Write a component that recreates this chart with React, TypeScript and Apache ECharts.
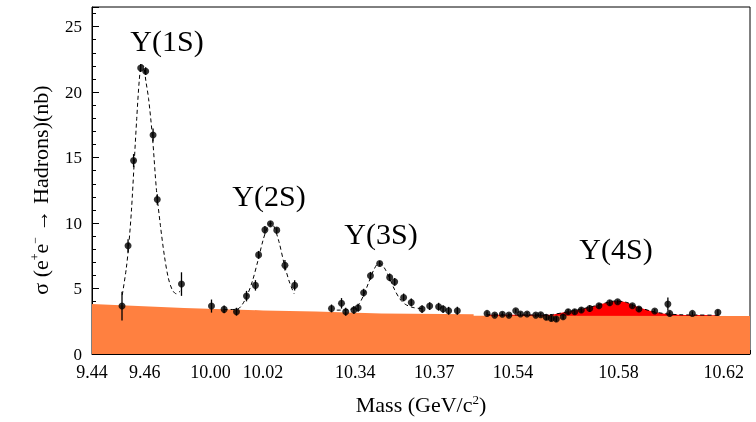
import React, { useEffect, useRef } from 'react';
import * as echarts from 'echarts';

// ---- axis definition (broken mass axis) ----
const tickMasses = [9.44, 9.46, 10.0, 10.02, 10.34, 10.37, 10.54, 10.58, 10.62];
const tickLabels = ['9.44', '9.46', '10.00', '10.02', '10.34', '10.37', '10.54', '10.58', '10.62'];
const segStartMass = [9.44, 9.99, 10.325, 10.525];
const segStartDisplay = [0, 0.035, 0.085, 0.145];
const DISPLAY_MAX = 0.25;
const STEP = 0.005;

// ---- measured points ----
const ups1sMass = [9.4514, 9.4537, 9.4558, 9.4585, 9.4604, 9.4632, 9.4648, 9.474];
const ups1sSigma = [3.66, 8.26, 14.77, 21.84, 21.6, 16.73, 11.8, 5.34];
const ups1sErr = [1.1, 0.5, 0.5, 0.3, 0.3, 0.5, 0.4, 0.9];

const ups2sMass = [10.0004, 10.0052, 10.0099, 10.0137, 10.0171, 10.0183, 10.0207, 10.0228, 10.0252, 10.0283, 10.032];
const ups2sSigma = [3.66, 3.41, 3.23, 4.42, 5.24, 7.57, 9.48, 9.94, 9.46, 6.77, 5.24];
const ups2sErr = [0.5, 0.3, 0.3, 0.4, 0.4, 0.3, 0.3, 0.2, 0.2, 0.4, 0.4];

const ups3sMass = [10.331, 10.3348, 10.3364, 10.3395, 10.3411, 10.3432, 10.3458, 10.3493, 10.3531, 10.355, 10.3584, 10.3613, 10.3654, 10.3683, 10.3717, 10.3734, 10.3755, 10.3788];
const ups3sSigma = [3.48, 3.87, 3.23, 3.36, 3.53, 4.68, 5.97, 6.91, 5.85, 5.51, 4.32, 3.94, 3.43, 3.66, 3.61, 3.43, 3.3, 3.3];
const ups3sErr = [0.3, 0.4, 0.3, 0.3, 0.3, 0.3, 0.3, 0.2, 0.3, 0.3, 0.3, 0.3, 0.3, 0.3, 0.3, 0.3, 0.3, 0.3];

const ups4sMass = [10.5301, 10.533, 10.5359, 10.5384, 10.541, 10.5428, 10.5453, 10.5486, 10.5505, 10.5526, 10.5545, 10.5564, 10.559, 10.5609, 10.5634, 10.5659, 10.5691, 10.5726, 10.5767, 10.5797, 10.5853, 10.5878, 10.5938, 10.5988, 10.5995, 10.6081, 10.6178];
const ups4sSigma = [3.1, 2.97, 3.03, 2.97, 3.3, 3.05, 3.05, 2.97, 3.0, 2.8, 2.72, 2.67, 2.85, 3.23, 3.23, 3.36, 3.48, 3.68, 3.91, 3.99, 3.68, 3.43, 3.28, 3.81, 3.1, 3.1, 3.18];
const ups4sErr = [0.15, 0.15, 0.15, 0.15, 0.15, 0.15, 0.15, 0.15, 0.15, 0.2, 0.2, 0.2, 0.2, 0.2, 0.2, 0.2, 0.25, 0.2, 0.2, 0.15, 0.15, 0.2, 0.15, 0.5, 0.15, 0.15, 0.2];

// ---- fit curves ----
const fit1Mass = [9.4515, 9.453, 9.454, 9.455, 9.456, 9.457, 9.458, 9.4588, 9.4596, 9.4605, 9.4615, 9.463, 9.4645, 9.466, 9.4675, 9.469, 9.4705, 9.472, 9.4735];
const fit1Sigma = [4.5, 6.5, 8.4, 11.0, 14.5, 18.0, 21.0, 22.1, 22.0, 20.8, 19.5, 16.5, 12.5, 9.8, 7.5, 5.8, 4.9, 4.6, 4.8];

const fit2Mass = [10.005, 10.01, 10.012, 10.014, 10.016, 10.018, 10.02, 10.0215, 10.0228, 10.024, 10.026, 10.028, 10.03, 10.0318];
const fit2Sigma = [3.4, 3.4, 3.75, 4.5, 5.6, 7.1, 8.7, 9.6, 10.0, 9.8, 8.6, 6.9, 5.5, 4.6];

const fit3Mass = [10.333, 10.338, 10.341, 10.343, 10.345, 10.347, 10.349, 10.351, 10.353, 10.355, 10.357, 10.359, 10.362, 10.366];
const fit3Sigma = [3.35, 3.4, 3.7, 4.4, 5.4, 6.4, 6.95, 6.6, 5.8, 4.9, 4.2, 3.8, 3.55, 3.45];

const fit4Mass = [10.53, 10.55, 10.555, 10.56, 10.565, 10.57, 10.575, 10.579, 10.583, 10.587, 10.592, 10.597, 10.603, 10.61, 10.618];
const fit4Sigma = [3.0, 2.98, 3.02, 3.2, 3.4, 3.62, 3.9, 4.05, 3.95, 3.62, 3.3, 3.1, 3.0, 2.98, 2.96];

// ---- continuum background ----
const bgMass = [9.44, 9.475, 9.99, 10.02, 10.04, 10.325, 10.35, 10.385, 10.525, 10.63];
const bgSigma = [3.82, 3.52, 3.5, 3.33, 3.25, 3.22, 3.1, 3.03, 2.92, 2.9];

const FONT = "'Liberation Serif', 'DejaVu Serif', serif";

function toD(m: number): number {
  let i = 0;
  for (let k = 0; k < segStartMass.length; k++) if (m >= segStartMass[k] - 1e-9) i = k;
  return +(segStartDisplay[i] + (m - segStartMass[i])).toFixed(6);
}

function pairs(ms: number[], vs: number[]) {
  return ms.map((m, i) => [toD(m), vs[i]]);
}

export default function App() {
  const ref = useRef<HTMLDivElement>(null);
  useEffect(() => {
    if (!ref.current) return;
    const chart = echarts.init(ref.current, undefined, { renderer: 'svg' });

    const nCat = Math.round(DISPLAY_MAX / STEP) + 1;
    const catLabels: string[] = new Array(nCat).fill('');
    const majorIdx = new Set<number>();
    tickMasses.forEach((m, i) => {
      const idx = Math.round(toD(m) / STEP);
      catLabels[idx] = tickLabels[i];
      majorIdx.add(idx);
    });

    const allPts = [
      ...ups1sMass.map((m, i) => [toD(m), ups1sSigma[i], ups1sErr[i]]),
      ...ups2sMass.map((m, i) => [toD(m), ups2sSigma[i], ups2sErr[i]]),
      ...ups3sMass.map((m, i) => [toD(m), ups3sSigma[i], ups3sErr[i]]),
      ...ups4sMass.map((m, i) => [toD(m), ups4sSigma[i], ups4sErr[i]]),
    ];

    const dashed = (ms: number[], vs: number[]) => ({
      type: 'line',
      data: pairs(ms, vs),
      showSymbol: false,
      smooth: 0.3,
      lineStyle: { color: '#000', width: 1, type: [4, 3] },
      z: 3,
      silent: true,
    });

    const labelStyle = (text: string) => ({
      text, font: `30px ${FONT}`, fill: '#000', align: 'center', verticalAlign: 'middle',
    });

    chart.setOption({
      animation: false,
      grid: {
        left: 92, right: 6, top: 7, bottom: 68,
        show: true, borderColor: '#000', borderWidth: 1, backgroundColor: 'transparent',
      },
      xAxis: [
        {
          type: 'value', min: 0, max: DISPLAY_MAX, interval: STEP,
          axisLine: { show: true, lineStyle: { color: '#000', width: 1 } },
          axisTick: { show: true, inside: true, length: 4, lineStyle: { color: '#000' } },
          axisLabel: { show: false },
          splitLine: { show: false },
        },
        {
          type: 'category', data: catLabels, boundaryGap: false, position: 'bottom',
          axisLine: { show: false },
          axisTick: {
            show: true, inside: true, length: 7, lineStyle: { color: '#000' },
            interval: (idx: number) => majorIdx.has(idx),
          },
          axisLabel: {
            show: true, interval: (idx: number) => majorIdx.has(idx),
            color: '#000', fontFamily: FONT, fontSize: 18, margin: 9,
          },
          splitLine: { show: false },
        },
      ],
      yAxis: {
        type: 'value', min: 0, max: 26.5, interval: 5,
        axisLine: { show: true, lineStyle: { color: '#000', width: 1 } },
        axisTick: { show: true, inside: true, length: 7, lineStyle: { color: '#000' } },
        minorTick: { show: true, splitNumber: 5, length: 4, lineStyle: { color: '#000' } },
        axisLabel: {
          color: '#000', fontFamily: FONT, fontSize: 17, margin: 10,
          formatter: (v: number) => (Math.abs(v % 5) < 1e-9 ? String(v) : ''),
        },
        splitLine: { show: false },
      },
      series: [
        {
          type: 'line', data: pairs(fit4Mass, fit4Sigma), showSymbol: false, smooth: 0.3,
          lineStyle: { width: 0 }, areaStyle: { color: '#ff0000', opacity: 1 }, z: 1, silent: true,
        },
        {
          type: 'line', data: pairs(bgMass, bgSigma), showSymbol: false,
          lineStyle: { width: 0 }, areaStyle: { color: '#ff8040', opacity: 1 }, z: 2, silent: true,
        },
        dashed(fit1Mass, fit1Sigma),
        dashed(fit2Mass, fit2Sigma),
        dashed(fit3Mass, fit3Sigma),
        dashed(fit4Mass, fit4Sigma),
        {
          type: 'custom', z: 4, silent: true,
          data: allPts,
          renderItem: (params: any, api: any) => {
            const x = api.value(0), y = api.value(1), e = api.value(2);
            const top = api.coord([x, y + e]);
            const bot = api.coord([x, y - e]);
            return {
              type: 'line',
              shape: { x1: top[0], y1: top[1], x2: bot[0], y2: bot[1] },
              style: { stroke: '#000', lineWidth: 1.3 },
            };
          },
        },
        {
          type: 'scatter', z: 5, silent: true,
          data: allPts.map((p) => [p[0], p[1]]),
          symbol: 'circle', symbolSize: 7, itemStyle: { color: '#000' },
        },
      ],
      graphic: [
        { type: 'text', x: 167, y: 40, style: labelStyle('Υ(1S)') },
        { type: 'text', x: 269, y: 195, style: labelStyle('Υ(2S)') },
        { type: 'text', x: 381, y: 233, style: labelStyle('Υ(3S)') },
        { type: 'text', x: 616, y: 248, style: labelStyle('Υ(4S)') },
        {
          type: 'text', x: 421, y: 404,
          style: {
            text: 'Mass (GeV/c{sup|2})', fontFamily: FONT, fontSize: 22, fill: '#000',
            align: 'center', verticalAlign: 'middle',
            rich: { sup: { fontFamily: FONT, fontSize: 13, verticalAlign: 'top', fill: '#000' } },
          },
        },
        {
          type: 'text', x: 40, y: 190, rotation: Math.PI / 2,
          style: {
            text: 'σ (e{sup|+}e{sup|−} → Hadrons)(nb)', fontFamily: FONT, fontSize: 22, fill: '#000',
            align: 'center', verticalAlign: 'middle',
            rich: { sup: { fontFamily: FONT, fontSize: 12, verticalAlign: 'top', fill: '#000' } },
          },
        },
      ],
    });
    return () => chart.dispose();
  }, []);
  return <div ref={ref} style={{ position: 'fixed', left: 0, top: 0, width: 756, height: 422 }} />;
}
